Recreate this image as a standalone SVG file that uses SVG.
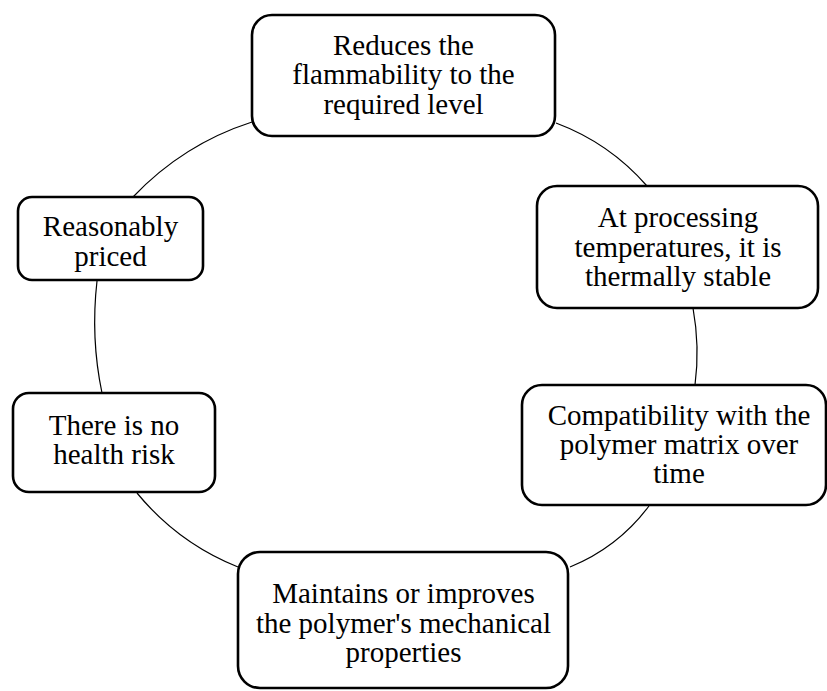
<svg xmlns="http://www.w3.org/2000/svg" width="827" height="691" viewBox="0 0 827 691">
<style>
.box{fill:#fff;stroke:#000;stroke-width:2.6}
.conn{fill:none;stroke:#000;stroke-width:1.2}
text{font-family:"Liberation Serif","Times New Roman",serif;font-size:29px;fill:#000;text-anchor:middle}
</style>
<rect width="827" height="691" fill="#fff"/>
<g id="connectors">
<path class="conn" d="M556,123 Q609.5,143 647,186"/>
<path class="conn" d="M693,308 Q700,346.5 695,385"/>
<path class="conn" d="M649,506 Q617.9,547.5 570,567"/>
<path class="conn" d="M238,567 Q178,543 137,493"/>
<path class="conn" d="M102,393 Q90.5,338 97,281"/>
<path class="conn" d="M133,197 Q182.9,144.3 252,122"/>
</g>
<g id="node-top">
<rect class="box" x="252" y="15" width="303" height="121" rx="20"/>
<text x="403.5" y="54.5">Reduces the</text>
<text x="403.5" y="84">flammability to the</text>
<text x="403.5" y="113.5">required level</text>
</g>
<g id="node-right-upper">
<rect class="box" x="537" y="186" width="281" height="122" rx="20"/>
<text x="678" y="226.5">At processing</text>
<text x="678" y="256.5">temperatures, it is</text>
<text x="678" y="286">thermally stable</text>
</g>
<g id="node-right-lower">
<rect class="box" x="522" y="385" width="304" height="120" rx="20"/>
<text x="679" y="425">Compatibility with the</text>
<text x="679" y="454">polymer matrix over</text>
<text x="679" y="483">time</text>
</g>
<g id="node-bottom">
<rect class="box" x="238" y="552" width="330" height="136" rx="22"/>
<text x="403.5" y="603">Maintains or improves</text>
<text x="403.5" y="632.5">the polymer's mechanical</text>
<text x="403.5" y="662">properties</text>
</g>
<g id="node-left-lower">
<rect class="box" x="13" y="393" width="202" height="99" rx="16"/>
<text x="114" y="435">There is no</text>
<text x="114" y="464">health risk</text>
</g>
<g id="node-left-upper">
<rect class="box" x="18" y="197" width="185" height="83" rx="14"/>
<text x="110.5" y="235.5">Reasonably</text>
<text x="110.5" y="266">priced</text>
</g>
</svg>
